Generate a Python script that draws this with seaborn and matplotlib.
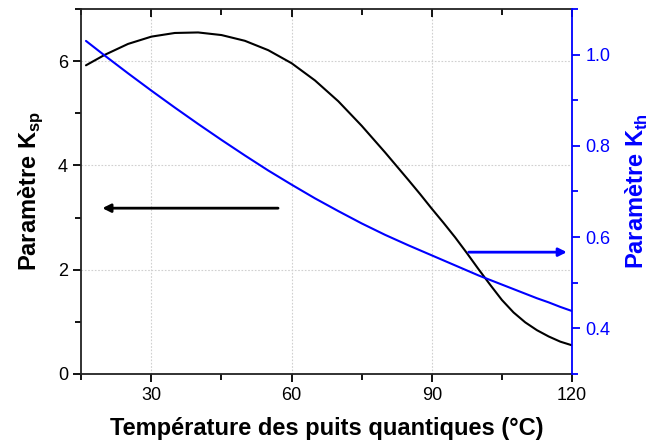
import matplotlib
matplotlib.use("Agg")
import matplotlib.pyplot as plt
import seaborn as sns
import pandas as pd
from matplotlib.ticker import MultipleLocator

temperature = [16, 20, 25, 30, 35, 40, 45, 50, 55, 60, 65, 70, 75, 80, 85,
               87.5, 90, 92.5, 95, 97.5, 100, 102.5, 105, 107.5, 110, 112.5,
               115, 117.5, 120]
k_sp = [5.92, 6.12, 6.33, 6.47, 6.54, 6.55, 6.50, 6.39, 6.21, 5.96, 5.63, 5.23,
        4.76, 4.25, 3.72, 3.45, 3.17, 2.90, 2.62, 2.32, 2.01, 1.71, 1.42, 1.18,
        0.99, 0.84, 0.72, 0.62, 0.55]
k_th = [1.030, 0.998, 0.959, 0.921, 0.884, 0.848, 0.813, 0.779, 0.746, 0.715,
        0.685, 0.657, 0.630, 0.605, 0.582, 0.571, 0.560, 0.549, 0.538, 0.527,
        0.516, 0.506, 0.496, 0.486, 0.476, 0.466, 0.457, 0.447, 0.438]

xlabel = "Température des puits quantiques (°C)"
ylabel_left = r"Paramètre K$_{\mathbf{sp}}$"
ylabel_right = r"Paramètre K$_{\mathbf{th}}$"

df = pd.DataFrame({"T": temperature, "Ksp": k_sp, "Kth": k_th})

sns.set_style("ticks")
plt.rcParams["font.family"] = ["Liberation Sans", "DejaVu Sans"]
plt.rcParams["mathtext.fontset"] = "custom"
plt.rcParams["mathtext.bf"] = "Liberation Sans:bold"
plt.rcParams["mathtext.rm"] = "Liberation Sans"
plt.rcParams["text.color"] = "black"
plt.rcParams["axes.labelcolor"] = "black"

fig = plt.figure(figsize=(6.51, 4.45), dpi=100)
ax = fig.add_axes([0.1249, 0.1596, 0.8786 - 0.1249, 0.9798 - 0.1596])
ax2 = ax.twinx()

sns.lineplot(data=df, x="T", y="Ksp", ax=ax, color="black", lw=1.5)
sns.lineplot(data=df, x="T", y="Kth", ax=ax2, color="#0000ff", lw=1.5)

ax.set_xlim(15, 120)
ax.set_ylim(0, 7)
ax2.set_ylim(0.3, 1.1)

ax.xaxis.set_major_locator(MultipleLocator(30))
ax.xaxis.set_minor_locator(MultipleLocator(15))
ax.yaxis.set_major_locator(MultipleLocator(2))
ax.yaxis.set_minor_locator(MultipleLocator(1))
ax2.yaxis.set_major_locator(MultipleLocator(0.2))
ax2.yaxis.set_minor_locator(MultipleLocator(0.1))

ax.grid(True, which="major", color="#d0d0d0", ls=(0, (1.5, 1.5)), lw=0.8)
ax.set_axisbelow(True)

ax.tick_params(axis="both", which="major", direction="out", length=6, width=1.3,
               labelsize=13, colors="black")
ax.tick_params(axis="both", which="minor", direction="out", length=4, width=1.3,
               colors="black")
ax.tick_params(axis="x", which="both", top=True)
ax.tick_params(axis="y", which="both", right=False)
ax2.tick_params(axis="y", which="major", direction="out", length=6, width=1.3,
                labelsize=13, colors="#0000ff")
ax2.tick_params(axis="y", which="minor", direction="out", length=4, width=1.3,
                colors="#0000ff")

# top ticks inward
for t in ax.xaxis.get_major_ticks():
    t.tick2line.set_marker(matplotlib.lines.TICKDOWN)
for t in ax.xaxis.get_minor_ticks():
    t.tick2line.set_marker(matplotlib.lines.TICKDOWN)

for s in ["left", "bottom", "top"]:
    ax.spines[s].set_linewidth(1.3)
    ax.spines[s].set_color("#222222")
ax.spines["right"].set_visible(False)
for s in ["left", "bottom", "top"]:
    ax2.spines[s].set_visible(False)
ax2.spines["right"].set_color("#0000ff")
ax2.spines["right"].set_linewidth(1.3)

ax.set_xlabel(xlabel, fontsize=17, fontweight="bold", labelpad=9, color="black")
ax.set_ylabel(ylabel_left, fontsize=17, fontweight="bold", labelpad=9, color="black")
ax2.set_ylabel(ylabel_right, fontsize=17, fontweight="bold", color="#0000ff",
               labelpad=10)

ax.annotate("", xy=(19.5, 3.18), xytext=(57.1, 3.18),
            arrowprops=dict(arrowstyle="-|>", color="black", lw=2,
                            mutation_scale=12, shrinkA=0, shrinkB=0))
ax2.annotate("", xy=(118.9, 0.567), xytext=(97.9, 0.567),
             arrowprops=dict(arrowstyle="-|>", color="#0000ff", lw=2,
                             mutation_scale=12, shrinkA=0, shrinkB=0))

fig.savefig("out.png", dpi=100)
